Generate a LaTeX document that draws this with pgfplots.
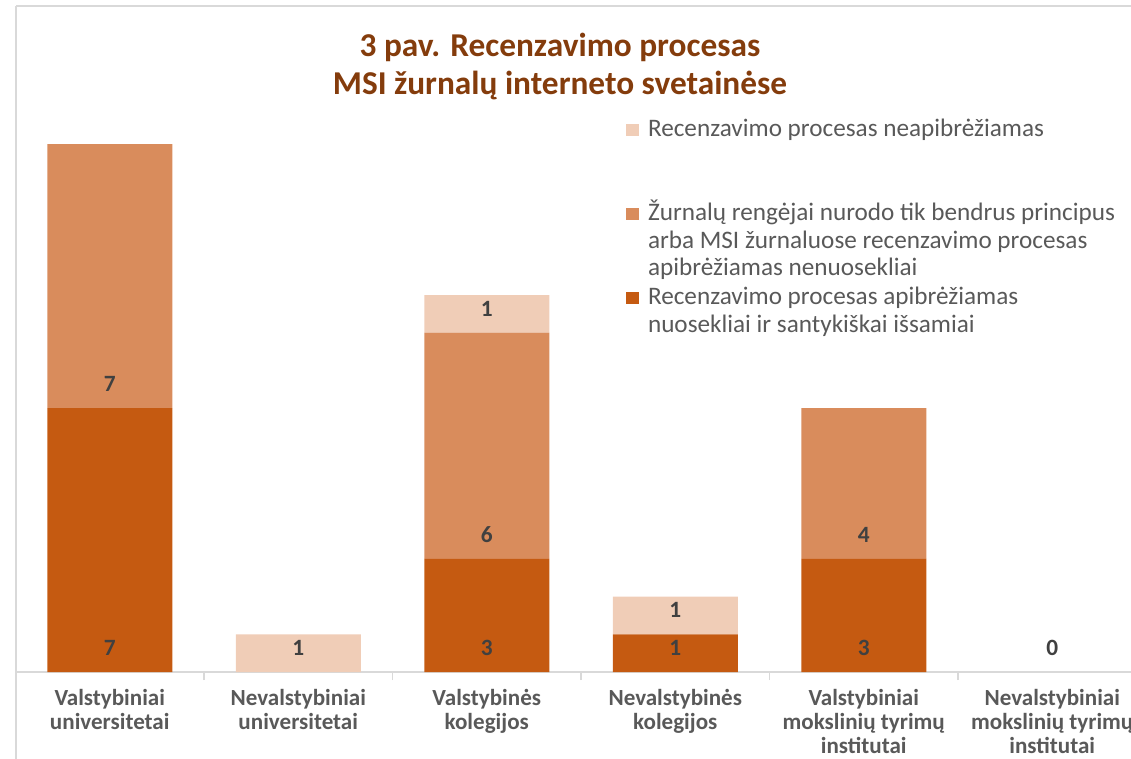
\documentclass[border=0pt]{standalone}
\usepackage{pgfplots}
\pgfplotsset{compat=1.18}
\usepackage{fontspec}
\setmainfont{Carlito}
\definecolor{cdark}{HTML}{C55A11}
\definecolor{cmed}{HTML}{D98C5C}
\definecolor{clight}{HTML}{F0CDB7}
\definecolor{ctitle}{HTML}{843C0C}
\definecolor{ctext}{HTML}{595959}
\definecolor{clabel}{HTML}{404040}
\definecolor{cgrid}{HTML}{D9D9D9}
\newcommand{\tlab}[1]{\begin{tabular}[t]{@{}c@{}}#1\end{tabular}}
\newcommand{\llab}[1]{\begin{tabular}[t]{@{}l@{}}#1\end{tabular}}
\begin{document}
\begin{tikzpicture}
\useasboundingbox (0,0) rectangle (848.25pt,568.5pt);
\clip (0,0) rectangle (848.25pt,568.5pt);
\draw[cgrid, line width=1.5pt] (12pt,564pt) -- (12pt,-20pt);
\draw[cgrid, line width=1.5pt] (12pt,564pt) -- (900pt,564pt);
\begin{axis}[
  at={(11.625pt,64.5pt)}, anchor=south west,
  x=141.375pt, y=28.275pt,
  xmin=-0.5, xmax=5.5, ymin=0, ymax=16,
  ybar stacked, bar width=93.75pt,
  axis x line*=bottom, axis y line=none,
  axis line style={cgrid, line width=1.2pt},
  xtick={0,...,5},
  xticklabels={{\tlab{Valstybiniai\\universitetai}},{\tlab{Nevalstybiniai\\universitetai}},{\tlab{Valstybinės\\kolegijos}},{\tlab{Nevalstybinės\\kolegijos}},{\tlab{Valstybiniai\\mokslinių tyrimų\\institutai}},{\tlab{Nevalstybiniai\\mokslinių tyrimų\\institutai}}},
  major tick length=0pt,
  minor x tick num=1,
  minor tick length=6pt,
  xtick align=outside,
  minor x tick style={cgrid, line width=1pt},
  xticklabel style={anchor=base, inner sep=0pt, yshift=-25.25pt, font=\fontsize{17.3}{18}\selectfont\bfseries, text=ctext},
  legend style={at={(0.5398,0.919)}, anchor=north west, draw=none, fill=none, inner sep=0pt, outer sep=0pt,
    font=\fontsize{18.9}{20.5}\selectfont, text=ctext, column sep=6.75pt, row sep=1.5pt,
    nodes={inner sep=0pt, outer sep=0pt, text height=14.35pt, text depth=47.15pt}, cells={anchor=base west}},
  reverse legend,
  legend image code/.code={\fill[#1] (0pt,0.75pt) rectangle (9.75pt,9.75pt);},
  clip=false,
]
\addplot[fill=cdark, draw=none] coordinates {(0,7) (1,0) (2,3) (3,1) (4,3) (5,0)};
\addlegendentry{\llab{Recenzavimo procesas apibrėžiamas\\nuosekliai ir santykiškai išsamiai}}
\addplot[fill=cmed, draw=none] coordinates {(0,7) (1,0) (2,6) (3,0) (4,4) (5,0)};
\addlegendentry{\llab{Žurnalų rengėjai nurodo tik bendrus principus\\arba MSI žurnaluose recenzavimo procesas\\apibrėžiamas nenuosekliai}}
\addplot[fill=clight, draw=none] coordinates {(0,0) (1,1) (2,1) (3,1) (4,0) (5,0)};
\addlegendentry{\llab{Recenzavimo procesas neapibrėžiamas}}
\end{axis}
\begin{axis}[
  at={(11.625pt,64.5pt)}, anchor=south west,
  x=141.375pt, y=28.275pt,
  xmin=-0.5, xmax=5.5, ymin=0, ymax=16,
  hide axis, clip=false,
  point meta=explicit symbolic,
  nodes near coords,
  every node near coord/.append style={anchor=center, yshift=18pt, font=\fontsize{17.5}{20}\selectfont\bfseries, text=clabel},
]
\addplot[draw=none, mark=none] coordinates {(0,0)[7] (0,7)[7] (1,0)[1] (2,0)[3] (2,3)[6] (2,9)[1] (3,0)[1] (3,1)[1] (4,0)[3] (4,3)[4] (5,0)[0]};
\end{axis}
\node[anchor=base, text=ctitle, font=\fontsize{25}{30}\selectfont\bfseries] at (420pt,525.75pt) {3 pav. Recenzavimo procesas};
\node[anchor=base, text=ctitle, font=\fontsize{25}{30}\selectfont\bfseries] at (420pt,497.25pt) {MSI žurnalų interneto svetainėse};
\end{tikzpicture}
\end{document}
